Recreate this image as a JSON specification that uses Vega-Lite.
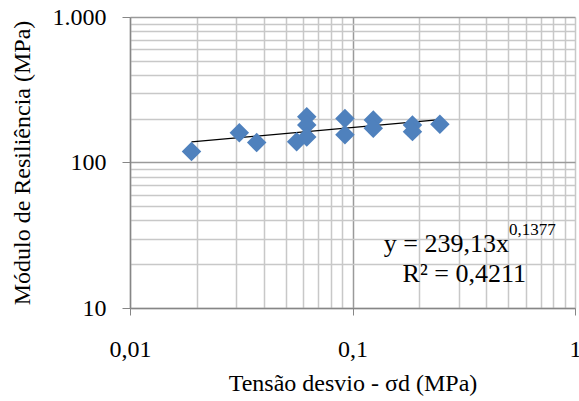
{
  "$schema": "https://vega.github.io/schema/vega-lite/v6.json",
  "autosize": {"type": "none"},
  "width": 445,
  "height": 291,
  "padding": {"left": 130, "top": 17, "right": 4, "bottom": 93},
  "background": "white",
  "config": {
    "view": {"stroke": null},
    "font": "Liberation Serif",
    "text": {"font": "Liberation Serif"},
    "axis": {"labelFont": "Liberation Serif", "titleFont": "Liberation Serif"},
    "style": {
      "guide-label": {"font": "Liberation Serif"},
      "guide-title": {"font": "Liberation Serif"}
    }
  },
  "datasets": {
    "pts": [
      {"sigma": 0.0189, "mr": 119},
      {"sigma": 0.0310, "mr": 160},
      {"sigma": 0.0371, "mr": 137},
      {"sigma": 0.0561, "mr": 139},
      {"sigma": 0.0623, "mr": 206},
      {"sigma": 0.0623, "mr": 181},
      {"sigma": 0.0623, "mr": 150},
      {"sigma": 0.0925, "mr": 201},
      {"sigma": 0.0925, "mr": 155},
      {"sigma": 0.124, "mr": 196},
      {"sigma": 0.124, "mr": 172},
      {"sigma": 0.186, "mr": 181},
      {"sigma": 0.186, "mr": 163},
      {"sigma": 0.247, "mr": 183}
    ],
    "trend": [
      {"sigma": 0.0189, "mr": 138.5},
      {"sigma": 0.247, "mr": 197}
    ],
    "notes": [
      {"t": "y = 239,13x", "part": "eq"},
      {"t": "0,1377", "part": "exp"},
      {"t": "R² = 0,4211", "part": "r2"}
    ]
  },
  "layer": [
    {
      "data": {"name": "trend"},
      "mark": {"type": "line", "color": "#000", "strokeWidth": 1.3},
      "encoding": {
        "x": {
          "field": "sigma", "type": "quantitative",
          "scale": {"type": "log", "domain": [0.01, 1], "nice": false},
          "axis": {
            "title": "Tensão desvio - σd (MPa)",
            "titleFont": "Liberation Serif", "titleFontSize": 24, "titleFontWeight": "normal", "titleColor": "#000",
            "titlePadding": 10,
            "values": [0.01,0.02,0.03,0.04,0.05,0.06,0.07,0.08,0.09,0.1,0.2,0.3,0.4,0.5,0.6,0.7,0.8,0.9,1],
            "labelExpr": "datum.value == 0.01 ? '0,01' : (datum.value == 0.1 ? '0,1' : (datum.value == 1 ? '1' : ''))",
            "labelFont": "Liberation Serif", "labelFontSize": 24, "labelColor": "#000",
            "labelOverlap": false, "labelFlush": false, "labelBound": false,
            "labelPadding": 22,
            "tickSize": 7, "tickColor": "#868686",
            "tickOpacity": {"condition": {"test": "datum.value == 0.01 || datum.value == 0.1 || datum.value == 1", "value": 1}, "value": 0},
            "domainColor": "#868686", "domainWidth": 1.5,
            "grid": true,
            "gridColor": {"condition": {"test": "datum.value == 0.1", "value": "#9a9a9a"}, "value": "#c8c8c8"},
            "gridWidth": 1.5
          }
        },
        "y": {
          "field": "mr", "type": "quantitative",
          "scale": {"type": "log", "domain": [10, 1000], "nice": false},
          "axis": {
            "title": "Módulo de Resiliência (MPa)",
            "titleFont": "Liberation Serif", "titleFontSize": 24, "titleFontWeight": "normal", "titleColor": "#000",
            "titlePadding": 18,
            "values": [10,20,30,40,50,60,70,80,90,100,200,300,400,500,600,700,800,900,1000],
            "labelExpr": "datum.value == 1000 ? '1.000' : (datum.value == 100 ? '100' : (datum.value == 10 ? '10' : ''))",
            "labelFont": "Liberation Serif", "labelFontSize": 24, "labelColor": "#000",
            "labelOverlap": false, "labelFlush": false, "labelBound": false,
            "labelPadding": 16,
            "tickSize": 8, "tickColor": "#868686",
            "tickOpacity": {"condition": {"test": "datum.value == 10 || datum.value == 100 || datum.value == 1000", "value": 1}, "value": 0},
            "domainColor": "#868686", "domainWidth": 1.5,
            "grid": true,
            "gridColor": {"condition": {"test": "datum.value == 100 || datum.value == 1000", "value": "#9a9a9a"}, "value": "#c8c8c8"},
            "gridWidth": 1.5
          }
        }
      }
    },
    {
      "data": {"name": "pts"},
      "mark": {"type": "point", "shape": "diamond", "filled": true, "size": 380, "color": "#4f81bd", "opacity": 1},
      "encoding": {
        "x": {"field": "sigma", "type": "quantitative"},
        "y": {"field": "mr", "type": "quantitative"}
      }
    },
    {
      "data": {"name": "notes"},
      "transform": [{"filter": "datum.part == 'eq'"}],
      "mark": {"type": "text", "fontSize": 26, "align": "right", "baseline": "alphabetic", "color": "#000"},
      "encoding": {"x": {"datum": 0.505, "type": "quantitative"}, "y": {"datum": 24.1, "type": "quantitative"}, "text": {"field": "t", "type": "nominal"}}
    },
    {
      "data": {"name": "notes"},
      "transform": [{"filter": "datum.part == 'exp'"}],
      "mark": {"type": "text", "fontSize": 17, "align": "left", "baseline": "alphabetic", "color": "#000"},
      "encoding": {"x": {"datum": 0.505, "type": "quantitative"}, "y": {"datum": 32, "type": "quantitative"}, "text": {"field": "t", "type": "nominal"}}
    },
    {
      "data": {"name": "notes"},
      "transform": [{"filter": "datum.part == 'r2'"}],
      "mark": {"type": "text", "fontSize": 26, "align": "center", "baseline": "alphabetic", "color": "#000"},
      "encoding": {"x": {"datum": 0.318, "type": "quantitative"}, "y": {"datum": 15, "type": "quantitative"}, "text": {"field": "t", "type": "nominal"}}
    }
  ]
}
